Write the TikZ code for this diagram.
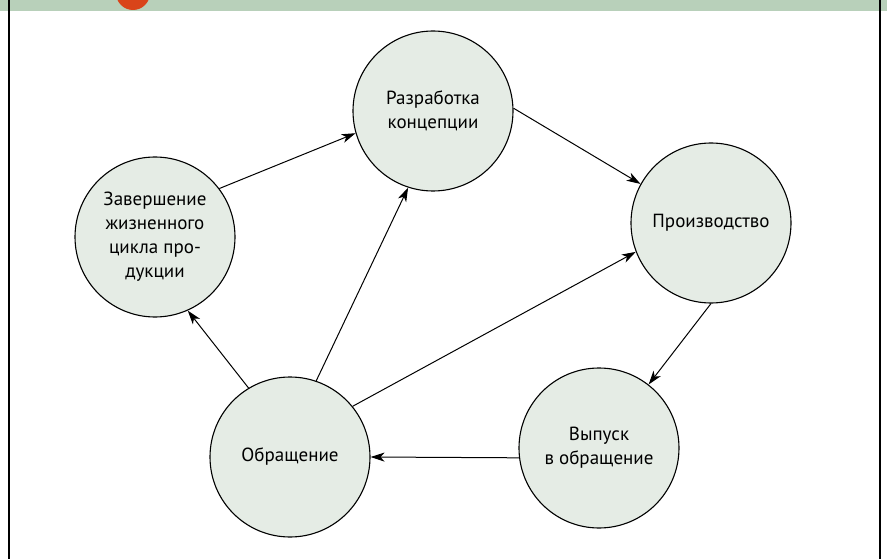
\documentclass[tikz,border=0pt]{standalone}
\usepackage{fontspec}
\setmainfont{PT Sans}
\usetikzlibrary{arrows.meta}

\definecolor{bandgreen}{HTML}{B8D0BA}
\definecolor{stagefill}{HTML}{E5ECE5}
\definecolor{markorange}{HTML}{D9441A}

\begin{document}
\begin{tikzpicture}[x=1pt,y=-1pt,>/.tip={Stealth[length=14pt,width=9pt,inset=4pt]},
	stage/.style={draw,shape=circle,minimum size=160pt,inner sep=0pt,line width=1.1pt,
		fill=stagefill,align=center,font=\fontsize{19}{24}\selectfont},
	flow/.style={->,line width=1pt}]
	\useasboundingbox (0,0) rectangle (887,559);
	\fill[bandgreen] (0,0) rectangle (887,11);
	\begin{scope}
		\clip (0,0) rectangle (887,11);
		\fill[markorange] (133,-7) circle (17);
	\end{scope}
	\draw[line width=1.4pt] (9,0) -- (9,559);
	\draw[line width=1.4pt] (880,0) -- (880,559);

	\draw (433,111) node(dev) [stage] {Разработка\\концепции};
	\draw (155,237) node(end) [stage] {Завершение\\жизненного\\цикла про-\\дукции};
	\draw (711,223) node(prod) [stage] {Производство};
	\draw (599,448) node(rel) [stage] {Выпуск\\в обращение};
	\draw (290,457) node(circ) [stage] {Обращение};

	\draw (end.37) edge [flow] (dev.196);
	\draw (dev.2) edge [flow] (prod.151);
	\draw (prod.270) edge [flow] (rel.52);
	\draw (rel.187) edge [flow] (circ.0);
	\draw (circ.121) edge [flow] (end.294);
	\draw (circ.71) edge [flow] (dev.252);
	\draw (circ.39) edge [flow] (prod.201);
\end{tikzpicture}
\end{document}
